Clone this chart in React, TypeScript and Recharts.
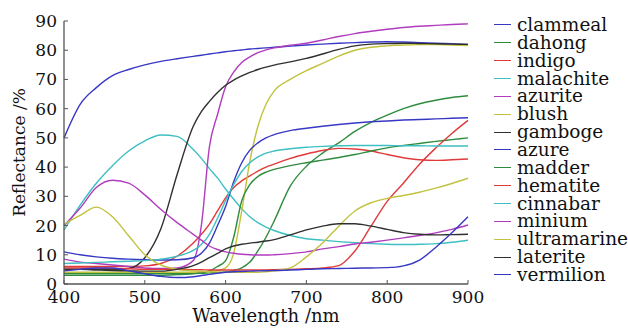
import React from 'react';
import { LineChart, Line, XAxis, YAxis, Legend } from 'recharts';

const wavelengths = [400, 420, 440, 460, 480, 500, 520, 540, 560, 570, 580, 590, 600, 610, 620, 630, 640, 650, 660, 680, 700, 720, 740, 760, 780, 800, 820, 840, 860, 880, 900];

const clammeal = [50, 61.5, 67.2, 71.3, 73.4, 75, 76.2, 77.1, 77.9, 78.3, 78.7, 79.1, 79.5, 79.8, 80.1, 80.4, 80.6, 80.8, 81, 81.4, 81.8, 82.1, 82.4, 82.6, 82.8, 82.9, 82.8, 82.6, 82.4, 82.2, 82];
const dahong = [3.6, 3.6, 3.6, 3.6, 3.6, 3.6, 3.6, 3.6, 3.7, 3.7, 3.8, 3.9, 4.1, 4.6, 5.5, 7.5, 11.3, 16, 21.5, 33.5, 40.3, 44.8, 48.3, 52.2, 55.3, 57.8, 60, 61.7, 62.9, 63.8, 64.4];
const indigo = [6, 6, 6, 6, 6, 6.2, 7, 9.5, 14, 17, 20.5, 25, 29.5, 33, 35.3, 37, 38.6, 40, 41, 43, 44.5, 45.7, 46.4, 46.2, 45.5, 44.3, 43.2, 42.5, 42.3, 42.5, 42.8];
const malachite = [18.5, 27, 34.5, 40.5, 45.5, 49, 51, 50.5, 46, 43, 39.5, 36.3, 32.5, 29, 25.8, 23, 21, 19.5, 18.3, 16.6, 15.5, 15, 14.5, 14.1, 13.8, 13.6, 13.5, 13.6, 13.8, 14.3, 15];
const azurite = [8.5, 7.5, 7, 6.5, 6, 5.5, 5.3, 5.5, 8, 20, 47, 58, 67.5, 72.5, 75.8, 77.7, 79.2, 80.1, 80.8, 81.7, 82.4, 83.5, 84.7, 85.7, 86.5, 87.2, 87.8, 88.2, 88.5, 88.8, 89];
const blush = [4, 4, 4, 4, 4, 4, 4, 4, 4, 4, 4.2, 4.6, 5.5, 10.5, 25, 42, 54, 61.5, 66, 70, 73, 75.5, 78, 80, 81, 81.5, 81.8, 81.9, 81.9, 81.8, 81.6];
const gamboge = [5, 5, 5, 5, 5.3, 9, 19, 37.5, 54, 59, 62.5, 65.5, 68, 69.8, 71.2, 72.4, 73.4, 74.2, 74.9, 76, 77.2, 78.7, 80.3, 81.5, 82.1, 82.3, 82.4, 82.3, 82.2, 82.1, 82];
const azure = [11, 10, 9.3, 8.8, 8.5, 8.3, 8.2, 8.3, 9, 10.5, 14, 20, 26.5, 35, 41.5, 45.8, 48.3, 50, 51.1, 52.5, 53.3, 54, 54.6, 55.1, 55.5, 55.8, 56.1, 56.3, 56.5, 56.7, 56.9];
const madder = [3, 3, 3, 3, 3, 3, 3, 3.2, 3.5, 3.8, 4.5, 6, 8, 16, 28.5, 34, 36.8, 38.3, 39.2, 40.5, 41.5, 42.4, 43.3, 44.3, 45.5, 46.6, 47.4, 48.1, 48.8, 49.4, 50];
const hematite = [5.5, 5.5, 5.5, 5.3, 5.2, 5, 5, 5, 4.9, 4.9, 4.8, 4.8, 4.8, 4.8, 4.8, 4.8, 4.8, 4.8, 4.9, 5, 5.2, 5.5, 6.3, 11.3, 19.8, 28.3, 34.5, 41, 46.5, 51.5, 56];
const cinnabar = [7, 7.2, 7.4, 7.6, 7.8, 8, 8.5, 9.5, 11.5, 13.5, 17, 22.5, 28.5, 34, 38.5, 41.5, 43.5, 44.8, 45.5, 46.3, 46.8, 47.1, 47.3, 47.4, 47.4, 47.4, 47.3, 47.3, 47.2, 47.2, 47.2];
const minium = [20, 26, 33, 35.5, 34.5, 30.5, 25.5, 21, 17, 15, 13, 11.8, 11, 10.5, 10.2, 10, 9.9, 9.9, 10, 10.4, 11, 12, 12.8, 13.7, 14.3, 15, 15.8, 16.6, 17.5, 18.7, 20.2];
const ultramarine = [20.5, 23.5, 26.3, 23, 16.5, 10, 6.5, 5, 4.5, 4.3, 4.2, 4.1, 4, 4, 4, 4, 4, 4.2, 4.5, 5.5, 9.3, 14, 19.8, 25, 27.8, 29.3, 30.3, 31.4, 32.8, 34.4, 36.2];
const laterite = [5, 5, 4.8, 4.6, 4.5, 4.4, 4.4, 5, 6.3, 7.5, 9, 10.5, 12, 13, 13.6, 14, 14.3, 14.7, 15.2, 16.8, 18.5, 19.8, 20.6, 20.6, 19.8, 18.7, 17.6, 17, 16.8, 16.9, 17];
const vermilion = [4.5, 5, 5.5, 5.5, 4.5, 3.5, 2.6, 2.2, 2.5, 2.9, 3.3, 3.7, 4, 4.2, 4.3, 4.4, 4.5, 4.55, 4.6, 4.8, 5, 5.2, 5.3, 5.4, 5.5, 5.6, 6.2, 8.2, 12.5, 17.5, 23];

const seriesNames = ['clammeal', 'dahong', 'indigo', 'malachite', 'azurite', 'blush', 'gamboge', 'azure', 'madder', 'hematite', 'cinnabar', 'minium', 'ultramarine', 'laterite', 'vermilion'];
const seriesValues = [clammeal, dahong, indigo, malachite, azurite, blush, gamboge, azure, madder, hematite, cinnabar, minium, ultramarine, laterite, vermilion];

const B = '#3838c4';
const G = '#2f8c3e';
const R = '#e03a3a';
const C = '#3ebfc2';
const M = '#b03cbe';
const Y = '#c2c23e';
const K = '#303030';
const seriesColors = [B, G, R, C, M, Y, K, B, G, R, C, M, Y, K, B];

const xTicks = [400, 500, 600, 700, 800, 900];
const yTicks = [0, 10, 20, 30, 40, 50, 60, 70, 80, 90];

const data = wavelengths.map((w, i) => {
  const row: Record<string, number> = { w };
  seriesNames.forEach((n, j) => {
    row[n] = seriesValues[j][i];
  });
  return row;
});

const FONT = '"DejaVu Serif", serif';
const AXIS = '#555555';

function LegendContent() {
  return (
    <div style={{ fontFamily: FONT, fontSize: 18.5, color: '#111' }}>
      {seriesNames.map((n, i) => (
        <div key={n} style={{ display: 'flex', alignItems: 'center', height: 17.86, lineHeight: '17.86px', whiteSpace: 'nowrap' }}>
          <span style={{ display: 'inline-block', width: 17, height: 0, borderTop: `1.5px solid ${seriesColors[i]}`, marginRight: 6 }} />
          <span>{n}</span>
        </div>
      ))}
    </div>
  );
}

const XLabel = (props: any) => {
  const vb = props.viewBox;
  return (
    <text x={vb.x + vb.width / 2} y={vb.y + 38} textAnchor="middle" fontFamily={FONT} fontSize={18} fill="#111">
      Wavelength /nm
    </text>
  );
};

const YLabel = (props: any) => {
  const vb = props.viewBox;
  const x = vb.x + 25;
  const y = vb.y + vb.height / 2;
  return (
    <text x={x} y={y} textAnchor="middle" transform={`rotate(-90, ${x}, ${y})`} fontFamily={FONT} fontSize={17} fill="#111">
      Reflectance /%
    </text>
  );
};

export default function App() {
  const tickStyle = { fill: '#111', fontSize: 17, fontFamily: FONT };
  return (
    <div style={{ position: 'absolute', left: 0, top: 0, width: 628, height: 330, background: '#fff' }}>
      <LineChart width={628} height={330} data={data} margin={{ top: 21, right: 160, bottom: 16, left: 0 }}>
        <XAxis
          dataKey="w"
          type="number"
          domain={[400, 900]}
          ticks={xTicks}
          interval={0}
          height={30}
          tickSize={-4}
          tickMargin={11}
          axisLine={{ stroke: AXIS, strokeWidth: 1.3 }}
          tickLine={{ stroke: AXIS }}
          tick={tickStyle}
          label={<XLabel />}
        />
        <XAxis xAxisId="top" orientation="top" dataKey="w" type="number" domain={[400, 900]} height={0} tick={false} tickLine={false} axisLine={{ stroke: AXIS, strokeWidth: 1.3 }} />
        <YAxis
          domain={[0, 90]}
          ticks={yTicks}
          interval={0}
          width={64}
          tickSize={-4}
          tickMargin={11}
          axisLine={{ stroke: AXIS, strokeWidth: 1.3 }}
          tickLine={{ stroke: AXIS }}
          tick={tickStyle}
          label={<YLabel />}
        />
        <YAxis yAxisId="right" orientation="right" domain={[0, 90]} width={0} tick={false} tickLine={false} axisLine={{ stroke: AXIS, strokeWidth: 1.3 }} />
        {seriesNames.map((n, i) => (
          <Line key={n} dataKey={n} type="monotone" stroke={seriesColors[i]} strokeWidth={1.4} dot={false} isAnimationActive={false} />
        ))}
        <Legend layout="horizontal" verticalAlign="middle" align="center" content={<LegendContent />} wrapperStyle={{ left: 494, top: 16, width: 134, height: 'auto' }} />
      </LineChart>
    </div>
  );
}
